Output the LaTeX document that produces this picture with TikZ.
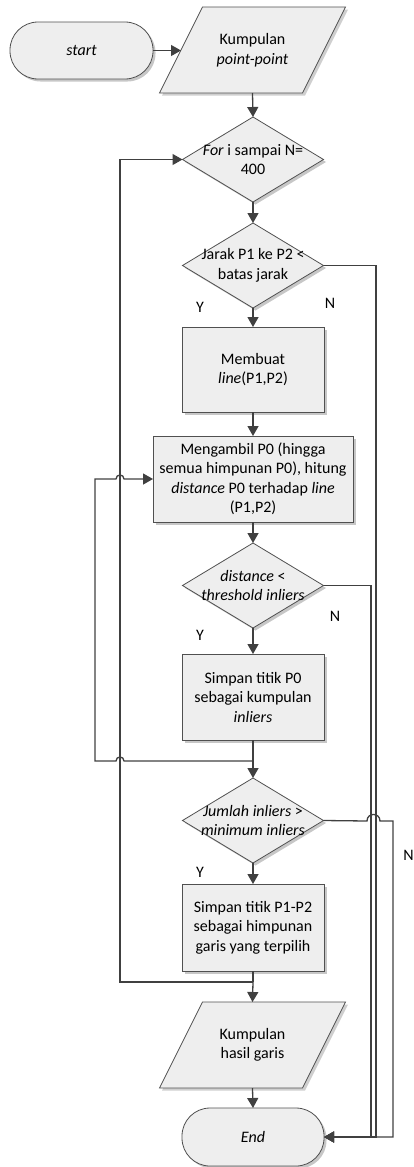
\documentclass[tikz,border=0pt]{standalone}
\usepackage{fontspec}
\setmainfont{Carlito}
\usetikzlibrary{arrows.meta,calc,shapes.geometric,shadows}
\definecolor{ln}{HTML}{404040}
\definecolor{bd}{HTML}{505050}
\definecolor{fl}{HTML}{EEEEEE}
\definecolor{sh}{HTML}{CFCFCF}
\newcommand\parashape[4]{%
  \fill[sh,shift={(#2+2.5,#3+2.5)}] (-50,-43) -- (93,-43) -- (50,43) -- (-93,43) -- cycle;
  \draw[bd,line width=0.8pt,fill=fl,shift={(#2,#3)}] (-50,-43) -- (93,-43) -- (50,43) -- (-93,43) -- cycle;
  \node[minimum width=143pt,minimum height=86pt,inner sep=0pt,outer sep=0pt,align=center] (#1) at (#2,#3) {#4};
}
\begin{document}
\begin{tikzpicture}[x=1pt,y=-1pt,
  font=\fontsize{16}{19.5}\selectfont,
  shd/.style={drop shadow={shadow xshift=2.5pt,shadow yshift=-2.5pt,fill=black,opacity=0.22}},
  box/.style={draw=bd,line width=0.8pt,fill=fl,shd,minimum width=142pt,minimum height=85pt,inner sep=0pt,outer sep=0pt,align=center},
  term/.style={box,rounded corners=28pt,minimum height=57pt},
  dia/.style={diamond,draw=bd,line width=0.8pt,fill=fl,shd,minimum width=141pt,minimum height=85pt,inner sep=0pt,outer sep=0pt},
  dtext/.style={align=center,inner sep=0pt},
  lbl/.style={inner sep=0pt},
  arr/.style={draw=ln,line width=1.3pt,-{Triangle[length=10pt,width=11pt]}},
  con/.style={draw=ln,line width=1.3pt}]
\useasboundingbox (0,0) rectangle (414,1167);

% nodes
\node[term,minimum width=143pt] (start) at (81.5,50.5) {\textit{start}};
\parashape{p1}{252.5}{50}{Kumpulan\\\textit{point-point}}
\node[dia] (d1) at (253,159.5) {};
\node[dtext] at (d1) {\textit{For} i sampai N=\\400};
\node[dia] (d2) at (253,265.5) {};
\node[dtext] at (d2) {Jarak P1 ke P2 <\\batas jarak};
\node[box] (b1) at (253,369.5) {Membuat\\\textit{line}(P1,P2)};
\node[box,minimum width=200pt,minimum height=86pt] (b2) at (253,479) {Mengambil P0 (hingga\\semua himpunan P0), hitung\\\textit{distance} P0 terhadap \textit{line}\\(P1,P2)};
\node[dia] (d3) at (253,585.5) {};
\node[dtext] at (d3) {\textit{distance} <\\\textit{threshold inliers}};
\node[box,minimum height=86pt] (b3) at (253,697) {Simpan titik P0\\sebagai kumpulan\\\textit{inliers}};
\node[dia] (d4) at (253,820.5) {};
\node[dtext] at (d4) {\textit{Jumlah inliers} >\\\textit{minimum inliers}};
\node[box,minimum height=87pt] (b4) at (253,927.5) {Simpan titik P1-P2\\sebagai himpunan\\garis yang terpilih};
\parashape{p2}{252.5}{1045}{Kumpulan\\hasil garis};
\node[term,minimum height=58pt] (endn) at (253,1137) {\textit{End}};

% labels
\node[lbl] (y1) at (200,307) {Y};
\node[lbl] (n1) at (330,303) {N};
\node[lbl] (y2) at (200,635) {Y};
\node[lbl] (n2) at (335,616) {N};
\node[lbl] (y3) at (200,872) {Y};
\node[lbl] (n3) at (408.5,855) {N};

% junctions
\coordinate (j1) at (253,761);
\coordinate (j2) at (253,982);
\coordinate (L1x) at (120,0);

% main flow
\draw[arr] (start.east) -- (start.east -| p1.west);
\draw[arr] (p1.south) -- (d1.north);
\draw[arr] (d1.south) -- (d2.north);
\draw[arr] (d2.south) -- (b1.north);
\draw[arr] (b1.south) -- (b2.north);
\draw[arr] (b2.south) -- (d3.north);
\draw[arr] (d3.south) -- (b3.north);
\draw[con] (b3.south) -- (j1);
\draw[arr] (j1) -- (d4.north);
\draw[arr] (d4.south) -- (b4.north);
\draw[con] (b4.south) -- (j2);
\draw[arr] (j2) -- (p2.north);
\draw[arr] (p2.south) -- (endn.north);

% outer loop
\draw[arr] (j2) -| (d1.west -| L1x) -- (d1.west);
% inner loop with hops
\draw[arr] (j1) -- (124,761) .. controls (124,755.7) and (116,755.7) .. (116,761) -- (95,761) -- (95,479)
  -- (116,479) .. controls (116,473.7) and (124,473.7) .. (124,479) -- (b2.west);

% N branches
\draw[arr] (d2.east) -- (376,265.5) -- (376,1137) -- (endn.east);
\draw[arr] (d3.east) -- (371,585.5) -- (371,1137) -- (endn.east);
\draw[arr] (d4.east) -- (367,821) .. controls (367,812.3) and (380,812.3) .. (380,821) -- (393,821) -- (393,1137) -- (endn.east);
\end{tikzpicture}
\end{document}
